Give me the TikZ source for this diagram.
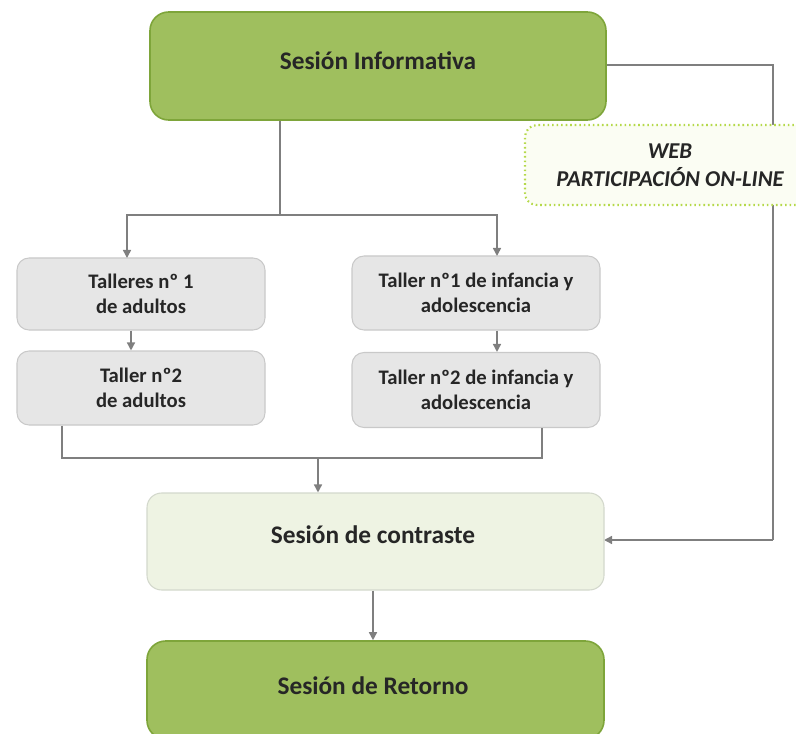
\documentclass[tikz,border=0pt]{standalone}
\usepackage{fontspec}
\setmainfont{Carlito}
\usetikzlibrary{arrows.meta}
\definecolor{gfill}{HTML}{9FBF5E}
\definecolor{gdraw}{HTML}{7EA53A}
\definecolor{boxgray}{HTML}{E6E6E6}
\definecolor{boxgraydraw}{HTML}{C9C9C9}
\definecolor{cfill}{HTML}{EEF3E3}
\definecolor{cdraw}{HTML}{D3D8CC}
\definecolor{webdraw}{HTML}{B5D94A}
\definecolor{webfill}{HTML}{FBFDF3}
\definecolor{lgray}{HTML}{7F7F7F}
\tikzset{
  bigtext/.style={font=\bfseries\fontsize{19}{22}\selectfont, text=black!85},
  greenbox/.style={draw=gdraw, fill=gfill, line width=1.2pt, rounded corners=14pt},
  graybox/.style={draw=boxgraydraw, fill=boxgray, line width=0.8pt, rounded corners=9pt, align=center, font=\bfseries\fontsize{15.5}{18.8}\selectfont, text=black!85},
  contbox/.style={draw=cdraw, fill=cfill, line width=0.8pt, rounded corners=11pt},
  webbox/.style={draw=webdraw, fill=webfill, line width=1.6pt, dash pattern=on 1.2pt off 2.2pt, rounded corners=9pt, align=center, font=\bfseries\itshape\fontsize{17}{21}\selectfont, text=black!85},
  conn/.style={draw=lgray, line width=1.1pt},
  arr/.style={conn, -{Triangle[length=6pt,width=6pt]}},
}
\begin{document}
\begin{tikzpicture}[x=0.75pt,y=-0.75pt]
\useasboundingbox (0,0) rectangle (796,734);
\begin{scope}
\clip (0,0) rectangle (796,734);
% nodes
\node[greenbox, minimum width=456*0.75pt, minimum height=108*0.75pt] (info) at (378,66) {};
\node[bigtext] (infot) at (378,61) {Sesión Informativa};
\coordinate (rt) at (773,65);
\coordinate (rb) at (773,540);
\draw[conn] (info.east |- rt) -- (rt) -- (rb);
\node[webbox, minimum width=290*0.75pt, minimum height=80*0.75pt] (web) at (670,165) {WEB\\PARTICIPACIÓN ON-LINE};
\draw[arr] (rb) -- (604,540);

\node[graybox, minimum width=248*0.75pt, minimum height=72*0.75pt] (a1) at (141,294) {Talleres nº 1\\de adultos};
\node[graybox, minimum width=248*0.75pt, minimum height=74*0.75pt] (a2) at (141,388) {Taller nº2\\de adultos};
\node[graybox, minimum width=248*0.75pt, minimum height=74*0.75pt] (i1) at (476,293) {Taller nº1 de infancia y\\adolescencia};
\node[graybox, minimum width=248*0.75pt, minimum height=75*0.75pt] (i2) at (476,390) {Taller nº2 de infancia y\\adolescencia};

\node[contbox, minimum width=457*0.75pt, minimum height=97*0.75pt] (cont) at (375.5,541.5) {};
\node[bigtext] (contt) at (373,535) {Sesión de contraste};
\node[greenbox, minimum width=457*0.75pt, minimum height=98*0.75pt] (ret) at (375.5,690) {};
\node[bigtext] (rett) at (373,686) {Sesión de Retorno};

% connectors
\coordinate (split) at (280,215);
\draw[conn] (280,121) -- (split);
\draw[arr] (split) -- (127,215) -- (127,258);
\draw[arr] (split) -- (497,215) -- (497,256);
\draw[arr] (a1.south -| 131,0) -- (a2.north -| 131,0);
\draw[arr] (i1.south -| 497,0) -- (i2.north -| 497,0);
\coordinate (join) at (318,458);
\draw[conn] (a2.south -| 62,0) -- (62,458) -- (542,458) -- (i2.south -| 542,0);
\draw[arr] (join) -- (cont.north -| join);
\draw[arr] (cont.south -| 373,0) -- (ret.north -| 373,0);
\end{scope}
\end{tikzpicture}
\end{document}
